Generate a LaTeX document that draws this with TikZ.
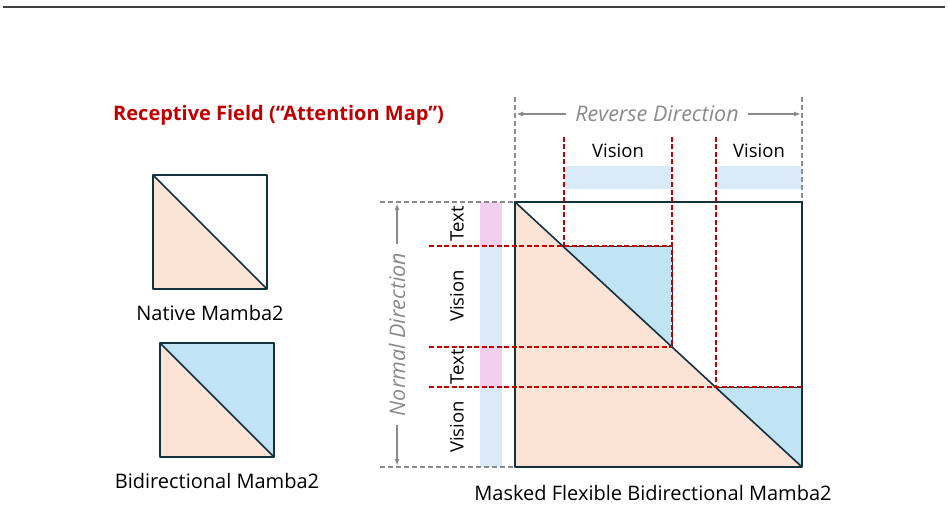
\documentclass[tikz,border=0pt]{standalone}
\usepackage{fontspec}
\setmainfont{Open Sans}
\usetikzlibrary{arrows.meta}
\definecolor{dk}{HTML}{14303F}
\definecolor{peach}{HTML}{FBE3D6}
\definecolor{sky}{HTML}{C1E4F5}
\definecolor{lblue}{HTML}{DAE9F7}
\definecolor{pinkish}{HTML}{F2CFEE}
\definecolor{rd}{HTML}{C00000}
\definecolor{gr}{HTML}{8A8A8A}
\definecolor{rule}{HTML}{404040}
\tikzset{
  boxline/.style={draw=dk, line width=1.8pt, line join=round},
  diagline/.style={draw=dk, line width=1.6pt},
  reddash/.style={draw=rd, line width=1.8pt, dash pattern=on 5pt off 2.5pt},
  graydash/.style={draw=gr, line width=1.4pt, dash pattern=on 5pt off 3pt},
  lbl/.style={font=\fontsize{20}{24}\selectfont, text=black, inner sep=1pt},
  sidelbl/.style={font=\fontsize{18.5}{22}\selectfont, text=black, inner sep=1pt, rotate=90},
  dirlbl/.style={font=\fontsize{21.5}{25}\selectfont\itshape, text=gr, fill=white, inner xsep=9pt, inner ysep=1pt},
  dirarrow/.style={draw=gr, line width=1.4pt, {Latex[length=7pt,width=5pt]}-{Latex[length=7pt,width=5pt]}},
}
\begin{document}
\begin{tikzpicture}[x=1pt,y=-1pt]
\useasboundingbox (0,0) rectangle (948,508);
% top rule
\draw[rule, line width=2pt] (3,7) -- (945,7);

% title
\node[font=\fontsize{20}{24}\selectfont\bfseries, text=rd, anchor=west, inner sep=0pt] (title) at (113,115) {Receptive Field (“Attention Map”)};

% Native Mamba2
\coordinate (n1) at (153,175); \coordinate (n2) at (267,175);
\coordinate (n3) at (267,289); \coordinate (n4) at (153,289);
\fill[peach] (n1) -- (n4) -- (n3) -- cycle;
\draw[diagline] (n1) -- (n3);
\draw[boxline] (n1) rectangle (n3);
\node[lbl] (natlbl) at (210,313) {Native Mamba2};

% Bidirectional Mamba2
\coordinate (b1) at (160,343); \coordinate (b2) at (274,343);
\coordinate (b3) at (274,457); \coordinate (b4) at (160,457);
\fill[peach] (b1) -- (b4) -- (b3) -- cycle;
\fill[sky] (b1) -- (b2) -- (b3) -- cycle;
\draw[diagline] (b1) -- (b3);
\draw[boxline] (b1) rectangle (b3);
\node[lbl] (bilbl) at (217,481) {Bidirectional Mamba2};

% main matrix corners
\coordinate (A) at (515,202); \coordinate (B) at (802,202);
\coordinate (C) at (802,467); \coordinate (D) at (515,467);
% diagonal points
\coordinate (p1) at (564,246);
\coordinate (p2) at (672,347);
\coordinate (p3) at (716,387);

% left strip
\fill[pinkish] (480,202) rectangle (502,246);
\fill[lblue] (480,246) rectangle (502,347);
\fill[pinkish] (480,347) rectangle (502,387);
\fill[lblue] (480,387) rectangle (502,467);
% top strips
\fill[lblue] (564,166) rectangle (672,189);
\fill[lblue] (716,166) rectangle (802,189);

% fills
\fill[peach] (A) -- (D) -- (C) -- cycle;
\fill[sky] (p1) -- (672,246) -- (p2) -- cycle;
\fill[sky] (p3) -- (802,387) -- (C) -- cycle;
\draw[dk, line width=1pt] (p1) -- (672,246) -- (p2);
\draw[dk, line width=1pt] (p3) -- (802,387);

% gray dashed guides
\draw[graydash] (380,202) -- (A);
\draw[graydash] (380,467) -- (D);
\draw[graydash] (515,97) -- (A);
\draw[graydash] (802,97) -- (B);

% diagonal and frame
\draw[diagline] (A) -- (C);
\draw[boxline] (A) rectangle (C);

% red dashed partitions
\draw[reddash] (429,246) -- (672,246);
\draw[reddash] (429,347) -- (p2);
\draw[reddash] (429,387) -- (802,387);
\draw[reddash] (564,137) -- (p1);
\draw[reddash] (672,137) -- (p2);
\draw[reddash] (716,137) -- (p3);

% side labels
\node[sidelbl] (t1) at (457,224) {Text};
\node[sidelbl] (v1) at (457,296) {Vision};
\node[sidelbl] (t2) at (457,367) {Text};
\node[sidelbl] (v2) at (457,427) {Vision};
% top labels
\node[lbl, font=\fontsize{18.5}{22}\selectfont] (tv1) at (618,151) {Vision};
\node[lbl, font=\fontsize{18.5}{22}\selectfont] (tv2) at (759,151) {Vision};

% direction arrows
\coordinate (na) at (397,203); \coordinate (nb) at (397,466);
\draw[dirarrow] (na) -- node[dirlbl, rotate=90] (ndir) {Normal Direction} (nb);
\coordinate (ra) at (516,114); \coordinate (rb) at (801,114);
\draw[dirarrow] (ra) -- node[dirlbl, pos=0.495] (rdir) {Reverse Direction} (rb);

% bottom label
\node[lbl] (mlbl) at (653,493) {Masked Flexible Bidirectional Mamba2};
\end{tikzpicture}
\end{document}
